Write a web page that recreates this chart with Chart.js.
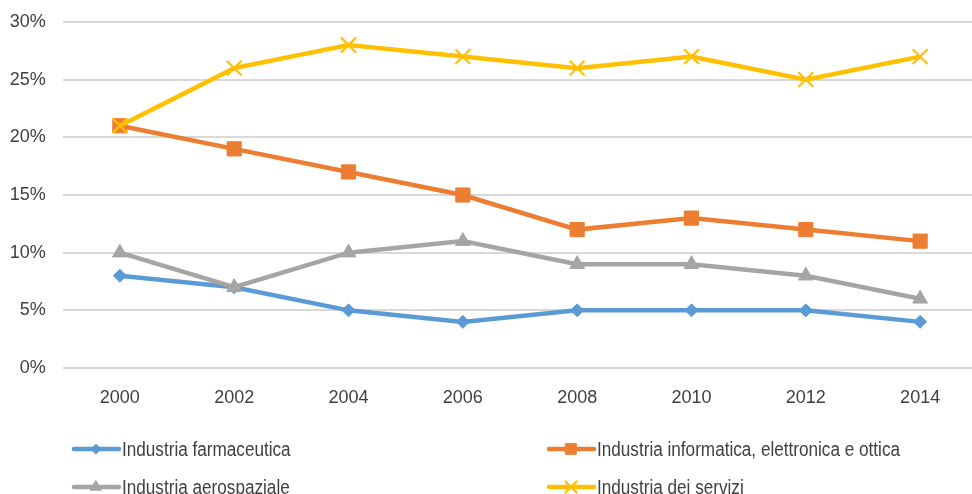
<!DOCTYPE html>
<html><head><meta charset="utf-8">
<script src="https://cdn.jsdelivr.net/npm/chart.js@4.4.0/dist/chart.umd.min.js"></script>
<style>
html,body{margin:0;padding:0;background:#fff;overflow:hidden;width:972px;height:494px}
#wrap{position:absolute;left:0;top:0;width:990px;height:494px}
</style></head><body>
<div id="wrap"><canvas id="c" width="990" height="494"></canvas></div>
<script>
const years = ['2000','2002','2004','2006','2008','2010','2012','2014'];
const farmaceutica = [8,7,5,4,5,5,5,4];
const informatica = [21,19,17,15,12,13,12,11];
const aerospaziale = [10,7,10,11,9,9,8,6];
const servizi = [21,26,28,27,26,27,25,27];
const yTicks = [0,5,10,15,20,25,30];
const names = ['Industria farmaceutica','Industria informatica, elettronica e ottica','Industria aerospaziale','Industria dei servizi'];

const FONT = "'Liberation Sans','Arial',sans-serif";
const TXT = '#404040';

function ds(label, data, color, style, r, order){
  return {label, data, borderColor:color, backgroundColor:color, borderWidth:4.5,
    pointStyle:style, pointRadius:r, pointHoverRadius:r, pointBorderWidth: style==='crossRot'?2.2:1,
    pointBorderColor:color, tension:0, order};
}
const datasets = [
  ds(names[0], farmaceutica, '#5B9BD5', 'rectRot', 6.5, 4),
  ds(names[1], informatica, '#ED7D31', 'rect', 10, 3),
  ds(names[2], aerospaziale, '#A5A5A5', 'triangle', 8.5, 2),
  ds(names[3], servizi, '#FFC000', 'crossRot', 10.5, 1)
];

const legendPlugin = {
  id:'gridLegend',
  afterDraw(chart){
    const ctx = chart.ctx;
    const pos = [[72,449],[547,449],[72,487],[547,487]];
    ctx.save();
    ctx.font = "20px " + FONT;
    const sx = 303 / ctx.measureText(names[1]).width;
    ctx.restore();
    chart.data.datasets.forEach((d,i)=>{
      const [x,y] = pos[i];
      ctx.save();
      ctx.strokeStyle = d.borderColor; ctx.lineWidth = 4.5; ctx.lineCap='round';
      ctx.beginPath(); ctx.moveTo(x+2,y); ctx.lineTo(x+47,y); ctx.stroke();
      ctx.fillStyle = d.backgroundColor; ctx.strokeStyle = d.borderColor;
      ctx.lineWidth = d.pointBorderWidth;
      Chart.helpers.drawPoint(ctx, {pointStyle:d.pointStyle, radius:d.pointRadius*0.75, borderWidth:d.pointBorderWidth, rotation:0}, x+24, y);
      ctx.restore();
      ctx.save();
      ctx.fillStyle = TXT; ctx.font = "20px " + FONT; ctx.textBaseline='middle'; ctx.textAlign='left';
      ctx.translate(x+50, y); ctx.scale(sx, 1);
      ctx.fillText(d.label, 0, 1);
      ctx.restore();
    });
  }
};

const opts = {
  responsive:false, animation:false,
  layout:{padding:{left:0,right:10.7,top:22,bottom:76}},
  plugins:{legend:{display:false}, tooltip:{enabled:false}},
  scales:{
    x:{offset:true, grid:{display:false, drawTicks:false}, border:{display:false},
      ticks:{color:TXT, font:{family:FONT,size:18}, padding:19, maxRotation:0},
      afterFit(s){ s.height = 50; s.paddingLeft = 0; s.paddingRight = 0; }},
    y:{min:0,max:30, afterBuildTicks(s){ s.ticks = yTicks.map(v=>({value:v})); },
      grid:{color:'#D9D9D9', lineWidth:2, drawTicks:false}, border:{display:false},
      ticks:{color:TXT, font:{family:FONT,size:18}, padding:17, callback:v=>v+'%'},
      afterFit(s){ s.width = 62.7; s.paddingTop = 0; s.paddingBottom = 0; }}
  }
};
new Chart(document.getElementById('c'), {
  type:'line', data:{labels:years, datasets}, options:opts, plugins:[legendPlugin]
});
</script></body></html>
